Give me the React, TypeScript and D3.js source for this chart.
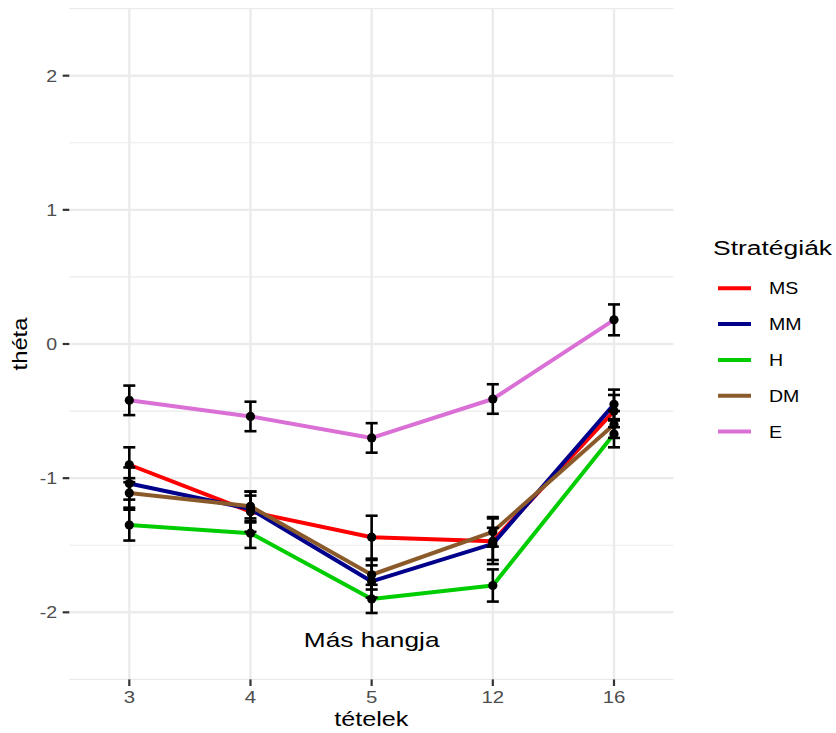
import React, { useRef, useEffect } from 'react';
import * as d3 from 'd3';

const items = ['3', '4', '5', '12', '16'];
const yTicks = [-2, -1, 0, 1, 2];
const yMinor = [-2.5, -1.5, -0.5, 0.5, 1.5, 2.5];

const strategies = ['MS', 'MM', 'H', 'DM', 'E'];
const colors = ['#FF0000', '#00008B', '#00CD00', '#8B5A2B', '#DA70D6'];

const msTheta = [-0.9, -1.25, -1.44, -1.47, -0.5];
const mmTheta = [-1.04, -1.23, -1.77, -1.49, -0.45];
const hTheta = [-1.35, -1.41, -1.9, -1.8, -0.67];
const dmTheta = [-1.11, -1.21, -1.72, -1.4, -0.6];
const eTheta = [-0.42, -0.54, -0.7, -0.41, 0.18];

const msSe = [0.13, 0.15, 0.16, 0.17, 0.12];
const mmSe = [0.12, 0.1, 0.12, 0.12, 0.11];
const hSe = [0.115, 0.11, 0.105, 0.12, 0.1];
const dmSe = [0.11, 0.11, 0.11, 0.11, 0.1];
const eSe = [0.11, 0.11, 0.11, 0.11, 0.115];

const thetas = [msTheta, mmTheta, hTheta, dmTheta, eTheta];
const ses = [msSe, mmSe, hSe, dmSe, eSe];

const FONT = '"Liberation Sans", Arial, sans-serif';

export default function App() {
  const svgRef = useRef<SVGSVGElement | null>(null);

  useEffect(() => {
    if (!svgRef.current) return;
    const width = 836, height = 733;
    const left = 69.3, right = 673.3, top = 8.6, bottom = 679.4;
    const svg = d3.select(svgRef.current);
    svg.selectAll('*').remove();
    svg.attr('width', width).attr('height', height).style('font-family', FONT);

    const x = d3.scalePoint<string>().domain(items).range([129.3, 614]);
    const y = d3.scaleLinear().domain([-2.5, 2.5]).range([bottom, top]);

    // stretched text, the reference glyphs are wider than plain Arial
    const label = (tx: number, ty: number, str: string, size: number, anchor: string, fill: string, sx: number, rot = 0) =>
      svg.append('text').attr('transform', `translate(${tx},${ty}) rotate(${rot}) scale(${sx},1)`)
        .attr('text-anchor', anchor).attr('dominant-baseline', 'central')
        .attr('fill', fill).attr('font-size', `${size}px`).text(str);

    svg.append('rect').attr('width', width).attr('height', height).attr('fill', 'white');

    // grid
    const grid = svg.append('g');
    yMinor.forEach((v) => {
      grid.append('line').attr('x1', left).attr('x2', right).attr('y1', y(v)).attr('y2', y(v))
        .attr('stroke', '#EBEBEB').attr('stroke-width', 1.2);
    });
    yTicks.forEach((v) => {
      grid.append('line').attr('x1', left).attr('x2', right).attr('y1', y(v)).attr('y2', y(v))
        .attr('stroke', '#EBEBEB').attr('stroke-width', 2.4);
    });
    items.forEach((it) => {
      grid.append('line').attr('x1', x(it)!).attr('x2', x(it)!).attr('y1', top).attr('y2', bottom)
        .attr('stroke', '#EBEBEB').attr('stroke-width', 2.4);
    });

    // axes
    yTicks.forEach((v) => {
      svg.append('line').attr('x1', 62.7).attr('x2', 69.3).attr('y1', y(v)).attr('y2', y(v))
        .attr('stroke', '#333333').attr('stroke-width', 2.2);
      label(57, y(v), v < 0 ? `-${Math.abs(v)}` : `${v}`, 17, 'end', '#4D4D4D', 1.15);
    });
    items.forEach((it) => {
      svg.append('line').attr('x1', x(it)!).attr('x2', x(it)!).attr('y1', bottom).attr('y2', bottom + 6.6)
        .attr('stroke', '#333333').attr('stroke-width', 2.2);
      label(x(it)!, 697, it, 17, 'middle', '#4D4D4D', 1.2);
    });
    label((left + right) / 2, 719, 'tételek', 21, 'middle', 'black', 1.2);
    label(20, (top + bottom) / 2, 'théta', 21, 'middle', 'black', 1.13, -90);

    // lines
    const line = d3.line<number>().x((_, i) => x(items[i])!).y((d) => y(d));
    thetas.forEach((vals, k) => {
      svg.append('path').attr('d', line(vals)!).attr('fill', 'none').attr('stroke', colors[k])
        .attr('stroke-width', 4).attr('stroke-linejoin', 'round');
    });

    // error bars
    thetas.forEach((vals, k) => {
      vals.forEach((v, i) => {
        const cx = x(items[i])!, lo = y(v - ses[k][i]), hi = y(v + ses[k][i]);
        const g = svg.append('g').attr('stroke', 'black').attr('stroke-width', 2.6);
        g.append('line').attr('x1', cx).attr('x2', cx).attr('y1', lo).attr('y2', hi);
        g.append('line').attr('x1', cx - 6).attr('x2', cx + 6).attr('y1', lo).attr('y2', lo);
        g.append('line').attr('x1', cx - 6).attr('x2', cx + 6).attr('y1', hi).attr('y2', hi);
      });
    });

    // points
    thetas.forEach((vals) => {
      vals.forEach((v, i) => {
        svg.append('circle').attr('cx', x(items[i])!).attr('cy', y(v)).attr('r', 4.6).attr('fill', 'black');
      });
    });

    // annotation
    label(x('5')!, y(-2.2), 'Más hangja', 21, 'middle', 'black', 1.25);

    // legend
    label(713, 248, 'Stratégiák', 21, 'start', 'black', 1.26);
    strategies.forEach((s, k) => {
      const ly = 288.3 + k * 35.8;
      svg.append('line').attr('x1', 718).attr('x2', 751).attr('y1', ly).attr('y2', ly)
        .attr('stroke', colors[k]).attr('stroke-width', 4);
      label(769, ly, s, 17, 'start', 'black', 1.15);
    });
  }, []);

  return (
    <div style={{ position: 'fixed', left: 0, top: 0 }}>
      <svg ref={svgRef} style={{ display: 'block' }} />
    </div>
  );
}
